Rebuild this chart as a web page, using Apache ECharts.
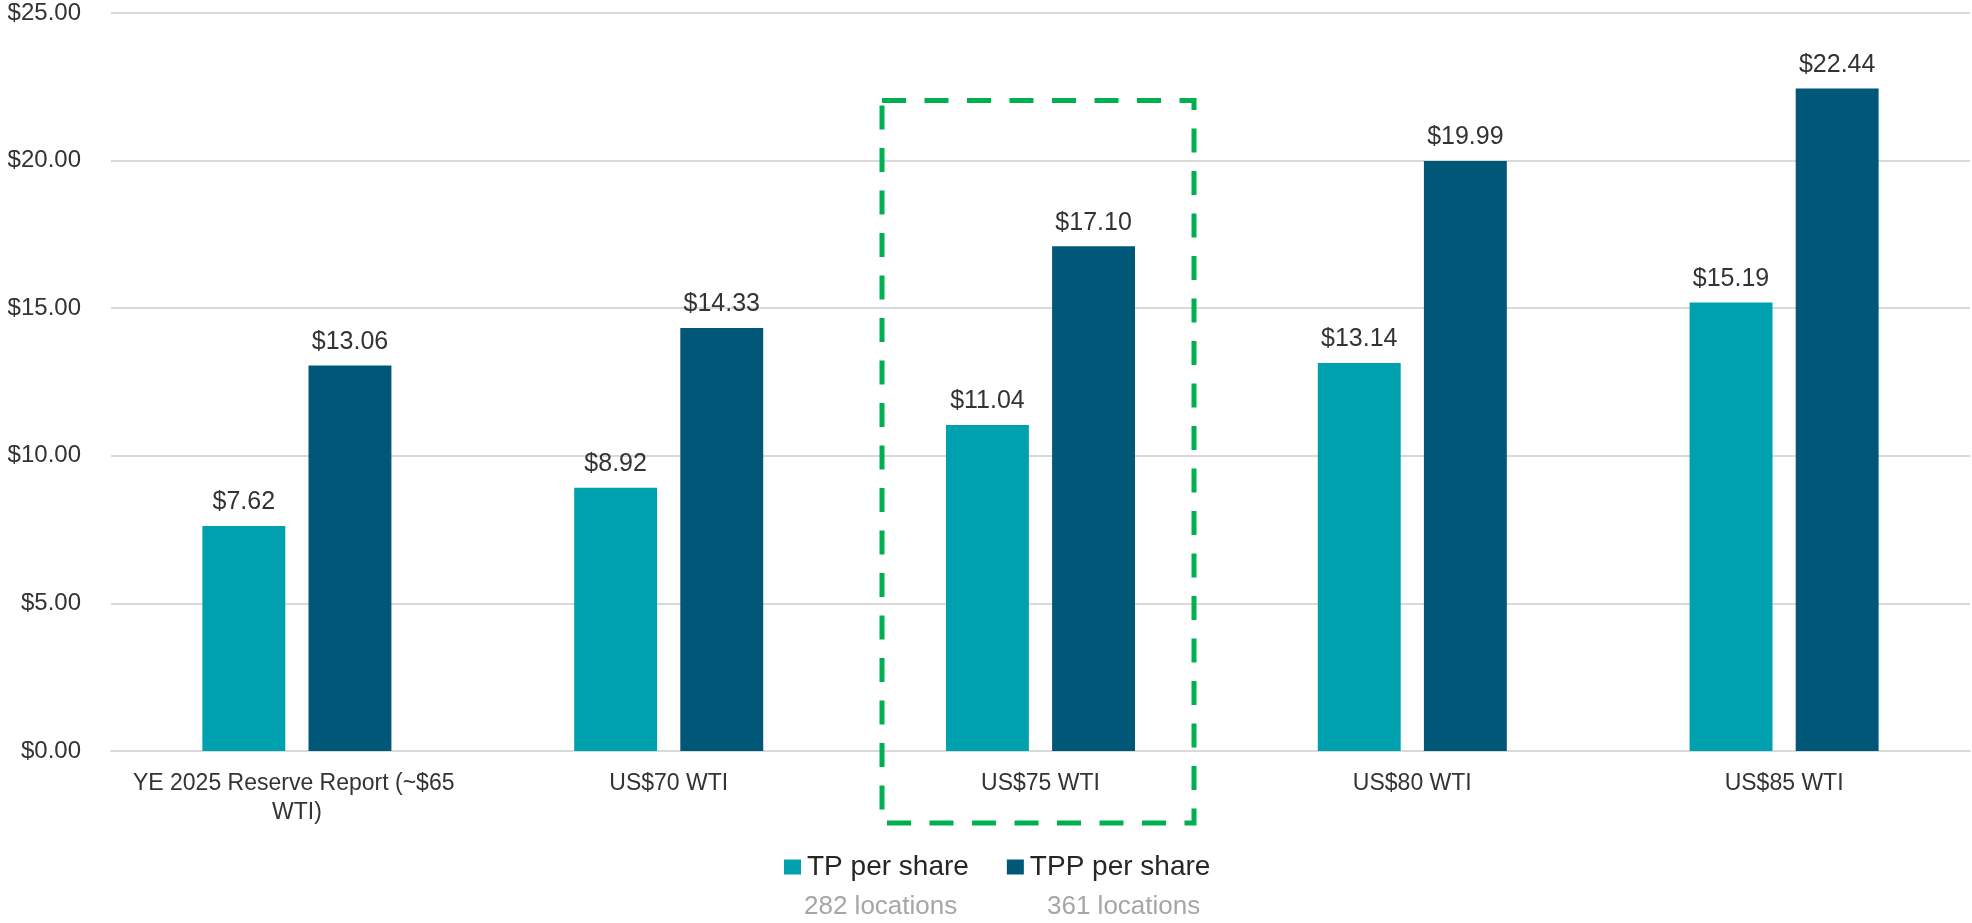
<!DOCTYPE html>
<html>
<head>
<meta charset="utf-8">
<script src="https://cdn.jsdelivr.net/npm/echarts@6/dist/echarts.min.js"></script>
<style>
html,body{margin:0;padding:0;background:#fff;}
#c{width:1972px;height:923px;}
</style>
</head>
<body>
<div id="c"></div>
<script>
var categories = ['YE 2025 Reserve Report (~$65 WTI)', 'US$70 WTI', 'US$75 WTI', 'US$80 WTI', 'US$85 WTI'];
var tpPerShare = [7.62, 8.92, 11.04, 13.14, 15.19];
var tppPerShare = [13.06, 14.33, 17.10, 19.99, 22.44];
var seriesNames = ['TP per share', 'TPP per share'];
var locationNotes = ['282 locations', '361 locations'];
var yTicks = { min: 0, max: 25, interval: 5 };

var font = '"Liberation Sans", Arial, sans-serif';

var chart = echarts.init(document.getElementById('c'));
var valueLabel = {
  show: true,
  position: 'top',
  distance: 11,
  fontFamily: font,
  fontSize: 25,
  color: '#333333',
  formatter: function (p) { return '$' + p.value.toFixed(2); }
};
chart.setOption({
  animation: false,
  backgroundColor: '#ffffff',
  grid: { left: 111, right: 2, top: 13, bottom: 172, containLabel: false },
  legend: {
    data: seriesNames,
    left: 784,
    top: 853,
    padding: 0,
    itemWidth: 17,
    itemHeight: 15,
    itemGap: 38,
    icon: 'rect',
    textStyle: { fontFamily: font, fontSize: 28, color: '#262626', padding: [0, 0, 0, 1] }
  },
  xAxis: {
    type: 'category',
    data: categories,
    axisLine: { show: true, lineStyle: { color: '#D9D9D9', width: 2 } },
    axisTick: { show: false },
    axisLabel: {
      interval: 0,
      margin: 18,
      fontFamily: font,
      fontSize: 23,
      lineHeight: 29,
      color: '#333333',
      width: 340,
      overflow: 'break'
    }
  },
  yAxis: {
    type: 'value',
    min: yTicks.min,
    max: yTicks.max,
    interval: yTicks.interval,
    axisLine: { show: false },
    axisTick: { show: false },
    splitLine: { lineStyle: { color: '#D9D9D9', width: 2 } },
    axisLabel: {
      margin: 30,
      fontFamily: font,
      fontSize: 24,
      color: '#333333',
      formatter: function (v) { return '$' + v.toFixed(2); }
    }
  },
  series: [
    {
      name: seriesNames[0],
      type: 'bar',
      data: tpPerShare,
      barWidth: '22.3%',
      barGap: '28%',
      itemStyle: { color: '#00A1AF' },
      label: valueLabel
    },
    {
      name: seriesNames[1],
      type: 'bar',
      data: tppPerShare,
      barWidth: '22.3%',
      itemStyle: { color: '#005778' },
      label: valueLabel
    }
  ],
  graphic: [
    {
      type: 'rect',
      shape: { x: 882, y: 100.5, width: 312, height: 722.5 },
      style: { fill: 'none', stroke: '#00B050', lineWidth: 5, lineDash: [24, 18.5], lineDashOffset: 0 },
      z: 100
    },
    {
      type: 'text',
      left: 804,
      top: 894,
      style: { text: locationNotes[0], fontFamily: font, fontSize: 26, fill: '#A6A6A6' }
    },
    {
      type: 'text',
      left: 1047,
      top: 894,
      style: { text: locationNotes[1], fontFamily: font, fontSize: 26, fill: '#A6A6A6' }
    }
  ]
});
</script>
</body>
</html>
